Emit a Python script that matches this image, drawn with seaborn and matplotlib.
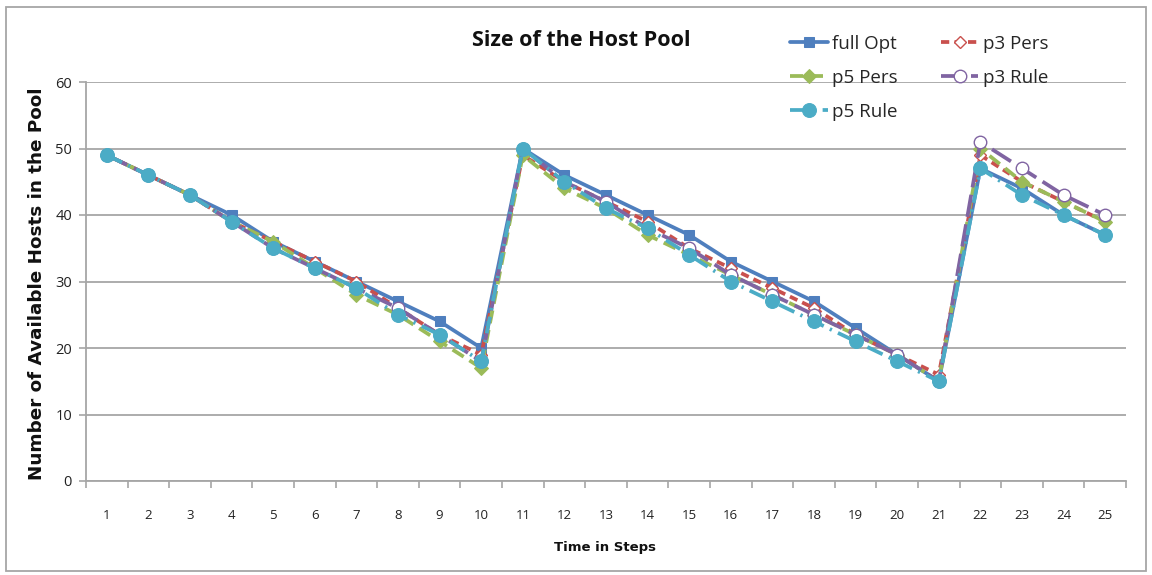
import matplotlib
matplotlib.use("Agg")
import matplotlib.pyplot as plt
import matplotlib.font_manager as fm
from matplotlib.patches import Rectangle
from matplotlib.ticker import FixedLocator
import seaborn as sns
import pandas as pd
import numpy as np

steps = list(range(1, 26))
full_opt = [49, 46, 43, 40, 36, 33, 30, 27, 24, 20,
            50, 46, 43, 40, 37, 33, 30, 27, 23, 19, 15,
            47, 44, 40, 37]
p3_pers = [49, 46, 43, 39, 36, 33, 30, 26, 22, 19,
           49, 45, 42, 39, 35, 32, 29, 26, 22, 19, 16,
           49, 45, 42, 39]
p5_pers = [49, 46, 43, 39, 36, 32, 28, 25, 21, 17,
           49, 44, 41, 37, 34, 31, 28, 25, 22, 19, 15,
           50, 45, 42, 39]
p3_rule = [49, 46, 43, 39, 35, 32, 29, 26, 22, 18,
           50, 45, 42, 38, 35, 31, 28, 25, 22, 19, 15,
           51, 47, 43, 40]
p5_rule = [49, 46, 43, 39, 35, 32, 29, 25, 22, 18,
           50, 45, 41, 38, 34, 30, 27, 24, 21, 18, 15,
           47, 43, 40, 37]
y_ticks = [0, 10, 20, 30, 40, 50, 60]

sns.set_theme(style="white")
names = {f.name for f in fm.fontManager.ttflist}
narrow = "Liberation Sans Narrow" if "Liberation Sans Narrow" in names else "Open Sans"
plt.rcParams["font.family"] = [narrow, "DejaVu Sans"]

fig = plt.figure(figsize=(11.52, 5.75), dpi=100)
ax = fig.add_axes([86 / 1152, 1 - 481 / 575, 1040 / 1152, 399 / 575])

series = [
    ("full Opt", full_opt, dict(color="#4F7FBE", linestyle="-", marker="s", markersize=7,
                                markerfacecolor="#4F7FBE", markeredgecolor="#4F7FBE")),
    ("p3 Pers", p3_pers, dict(color="#C9504D", linestyle=(0, (2.2, 1.4)), marker="D", markersize=6.5,
                              markerfacecolor="white", markeredgecolor="#C9504D", markeredgewidth=1)),
    ("p5 Pers", p5_pers, dict(color="#9BBB59", linestyle=(0, (3.5, 1.8)), marker="D", markersize=7,
                              markerfacecolor="#9BBB59", markeredgecolor="#9BBB59")),
    ("p3 Rule", p3_rule, dict(color="#8064A2", linestyle=(0, (6, 2)), marker="o", markersize=9,
                              markerfacecolor="white", markeredgecolor="#8064A2", markeredgewidth=1)),
    ("p5 Rule", p5_rule, dict(color="#4BACC6", linestyle=(0, (4.5, 1.8, 0.6, 1.8)), marker="o", markersize=10,
                              markerfacecolor="#4BACC6", markeredgecolor="#4BACC6")),
]

for name, vals, kw in series:
    df = pd.DataFrame({"step": steps, "value": vals})
    sns.lineplot(data=df, x="step", y="value", ax=ax, label=name, linewidth=2.7, **kw)

ax.set_xlim(0.5, 25.5)
ax.set_ylim(0, 60)
ax.set_yticks(y_ticks)
ax.yaxis.grid(True, color="#A6A6A6", linewidth=1.3)
ax.xaxis.grid(False)
ax.set_axisbelow(True)

ax.xaxis.set_major_locator(FixedLocator(np.arange(0.5, 26, 1)))
ax.xaxis.set_minor_locator(FixedLocator(steps))
ax.set_xticklabels([])
ax.set_xticklabels([str(s) for s in steps], minor=True)
ax.tick_params(axis="x", which="major", direction="out", length=5, width=1.2, color="#A6A6A6", bottom=True)
ax.tick_params(axis="x", which="minor", length=0, pad=20, labelsize=9.5, labelcolor="#222222")
ax.tick_params(axis="y", direction="out", length=5, width=1.2, color="#A6A6A6", left=True,
               labelsize=10.5, labelcolor="#222222", pad=5)

for s in ["top", "right"]:
    ax.spines[s].set_visible(False)
for s in ["left", "bottom"]:
    ax.spines[s].set_color("#A6A6A6")
    ax.spines[s].set_linewidth(1.3)

ax.set_xlabel("")
ax.set_ylabel("")
fig.text(37 / 1152, 1 - 284 / 575, "Number of Available Hosts in the Pool", rotation=90,
         ha="center", va="center", fontsize=13.2, fontweight="bold", family="DejaVu Sans", color="#111111")
fig.text(605 / 1152, 1 - 548 / 575, "Time in Steps", ha="center", va="center",
         fontsize=9.5, fontweight="bold", family="DejaVu Sans", color="#111111")
fig.text(581 / 1152, 1 - 41 / 575, "Size of the Host Pool", ha="center", va="center",
         fontsize=15.5, fontweight="bold", color="#111111")

handles, labels = ax.get_legend_handles_labels()
order = [labels.index(n) for n in ["full Opt", "p5 Pers", "p5 Rule", "p3 Pers", "p3 Rule"]]
ax.legend([handles[i] for i in order], [labels[i] for i in order],
          loc="upper left", bbox_to_anchor=(790 / 1152, 1 - 35 / 575), bbox_transform=fig.transFigure,
          ncol=2, frameon=False, fontsize=13.5, handlelength=2.0, handletextpad=0.25,
          columnspacing=2.3, labelspacing=0.85, borderaxespad=0, borderpad=0)

fig.patches.append(Rectangle((6 / 1152, 4 / 575), 1140 / 1152, 564 / 575, transform=fig.transFigure,
                             fill=False, edgecolor="#A6A6A6", linewidth=1.3))

fig.savefig("out.png", dpi=100, facecolor="white")
